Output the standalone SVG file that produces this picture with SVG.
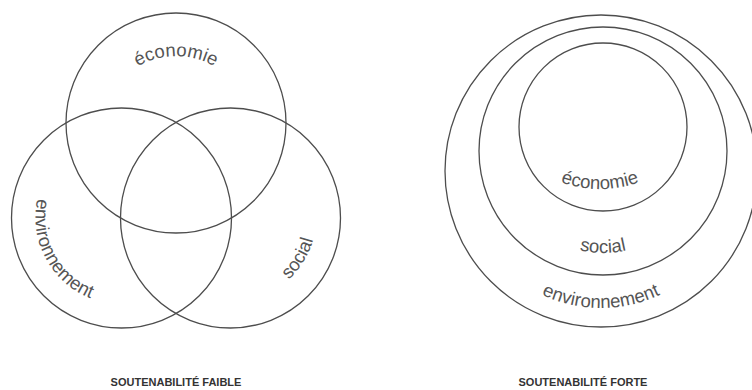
<svg xmlns="http://www.w3.org/2000/svg" xmlns:xlink="http://www.w3.org/1999/xlink" width="752" height="390" viewBox="0 0 752 390">
<style>
.c{fill:none;stroke:#4d4d4d;stroke-width:1.3}
.t{font-family:"Liberation Sans",Arial,sans-serif;font-size:18.5px;fill:#555}
.h{font-family:"Liberation Sans",Arial,sans-serif;font-size:11px;font-weight:bold;fill:#333;text-anchor:middle}
</style>
<defs>
<path id="p1" d="M118,82 A78,78 0 0 1 234,82"/>
<path id="p2" d="M40.2,188.6 A87,87 0 0 0 100.2,301.4"/>
<path id="p3" d="M257,298 A85,85 0 0 0 315,203"/>
<path id="p4" d="M550,177.8 A117,117 0 0 0 650,177.8"/>
<path id="p5" d="M559.9,243.4 A102,102 0 0 0 646.1,243.4"/>
<path id="p6" d="M522.4,283.2 A137,137 0 0 0 679.6,283.2"/>
</defs>
<rect width="752" height="390" fill="#fff"/>
<g id="economie-faible">
<circle class="c" cx="176" cy="123" r="110"/>
<text class="t"><textPath xlink:href="#p1" href="#p1" startOffset="50%" text-anchor="middle">économie</textPath></text>
</g>
<g id="environnement-faible">
<circle class="c" cx="121.5" cy="218" r="110"/>
<text class="t"><textPath xlink:href="#p2" href="#p2" startOffset="50%" text-anchor="middle">environnement</textPath></text>
</g>
<g id="social-faible">
<circle class="c" cx="230.5" cy="218" r="110"/>
<text class="t"><textPath xlink:href="#p3" href="#p3" startOffset="50%" text-anchor="middle">social</textPath></text>
</g>
<g id="environnement-forte">
<circle class="c" cx="601" cy="171" r="156"/>
<text class="t"><textPath xlink:href="#p6" href="#p6" startOffset="50%" text-anchor="middle">environnement</textPath></text>
</g>
<g id="social-forte">
<circle class="c" cx="603" cy="151" r="124"/>
<text class="t"><textPath xlink:href="#p5" href="#p5" startOffset="50%" text-anchor="middle">social</textPath></text>
</g>
<g id="economie-forte">
<circle class="c" cx="603" cy="127" r="84"/>
<text class="t"><textPath xlink:href="#p4" href="#p4" startOffset="50%" text-anchor="middle">économie</textPath></text>
</g>
<g id="connectors"/>
<g id="labels">
<text class="h" x="176" y="386">SOUTENABILITÉ FAIBLE</text>
<text class="h" x="583" y="386">SOUTENABILITÉ FORTE</text>
</g>
</svg>
